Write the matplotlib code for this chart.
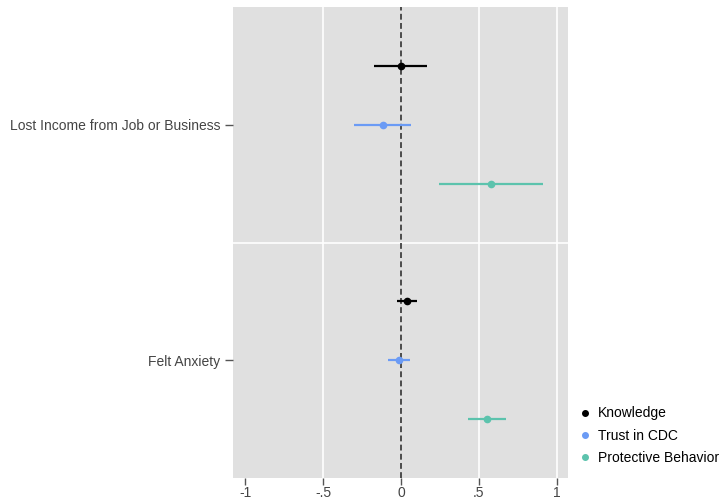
import matplotlib
matplotlib.use("Agg")
import matplotlib.pyplot as plt
from matplotlib.lines import Line2D

plt.rcParams['font.family'] = ['Liberation Sans', 'DejaVu Sans']

groups = ["Lost Income from Job or Business", "Felt Anxiety"]
series = ["Knowledge", "Trust in CDC", "Protective Behavior"]
colors = ["#000000", "#6b9bf5", "#5cc3ad"]
# estimates and CI bounds per series, per group (Lost Income, Felt Anxiety)
est = {
    "Knowledge": [0.00, 0.038],
    "Trust in CDC": [-0.117, -0.01],
    "Protective Behavior": [0.575, 0.553],
}
low = {
    "Knowledge": [-0.17, -0.027],
    "Trust in CDC": [-0.30, -0.08],
    "Protective Behavior": [0.242, 0.43],
}
high = {
    "Knowledge": [0.165, 0.105],
    "Trust in CDC": [0.064, 0.058],
    "Protective Behavior": [0.908, 0.676],
}
group_pos = [2, 1]
offsets = [0.25, 0.0, -0.25]
xticks = [-1, -0.5, 0, 0.5, 1]
xticklabels = ["-1", "-.5", "0", ".5", "1"]

fig = plt.figure(figsize=(7.24, 5.03), dpi=100)
ax = fig.add_axes([233/724, 1-478/503, 335/724, 471/503])
ax.set_facecolor("#e0e0e0")
for s in ax.spines.values():
    s.set_visible(False)

for x in [-0.5, 0.5, 1]:
    ax.axvline(x, color="white", lw=1.2, zorder=1)
ax.axhline(1.5, color="white", lw=1.2, zorder=1)
ax.axvline(0, color="#333333", lw=1.2, ls=(0, (3.5, 2)), zorder=2)

for s, c, off in zip(series, colors, offsets):
    for gi, gp in enumerate(group_pos):
        y = gp + off
        ax.plot([low[s][gi], high[s][gi]], [y, y], color=c, lw=1.6, zorder=3, solid_capstyle="butt")
        ax.plot(est[s][gi], y, "o", color=c, ms=4.5, zorder=4)

ax.set_xlim(-1.077, 1.071)
ax.set_ylim(0.498, 2.502)
ax.set_xticks(xticks)
ax.set_xticklabels(xticklabels)
ax.set_yticks(group_pos)
ax.set_yticklabels(groups)
ax.tick_params(axis="both", colors="#555555", labelcolor="#444444", labelsize=10, length=6, width=1)
ax.tick_params(axis="y", pad=3)
ax.tick_params(axis="x", pad=1, length=5)

handles = [Line2D([], [], ls="none", marker="o", ms=4, color=c) for c in colors]
fig.legend(handles, series, loc="upper left", bbox_to_anchor=(567/724, 1-394/503),
           frameon=False, fontsize=10, handletextpad=0.5, labelspacing=0.6,
           handlelength=0.8)

fig.savefig("out.png", dpi=100)
